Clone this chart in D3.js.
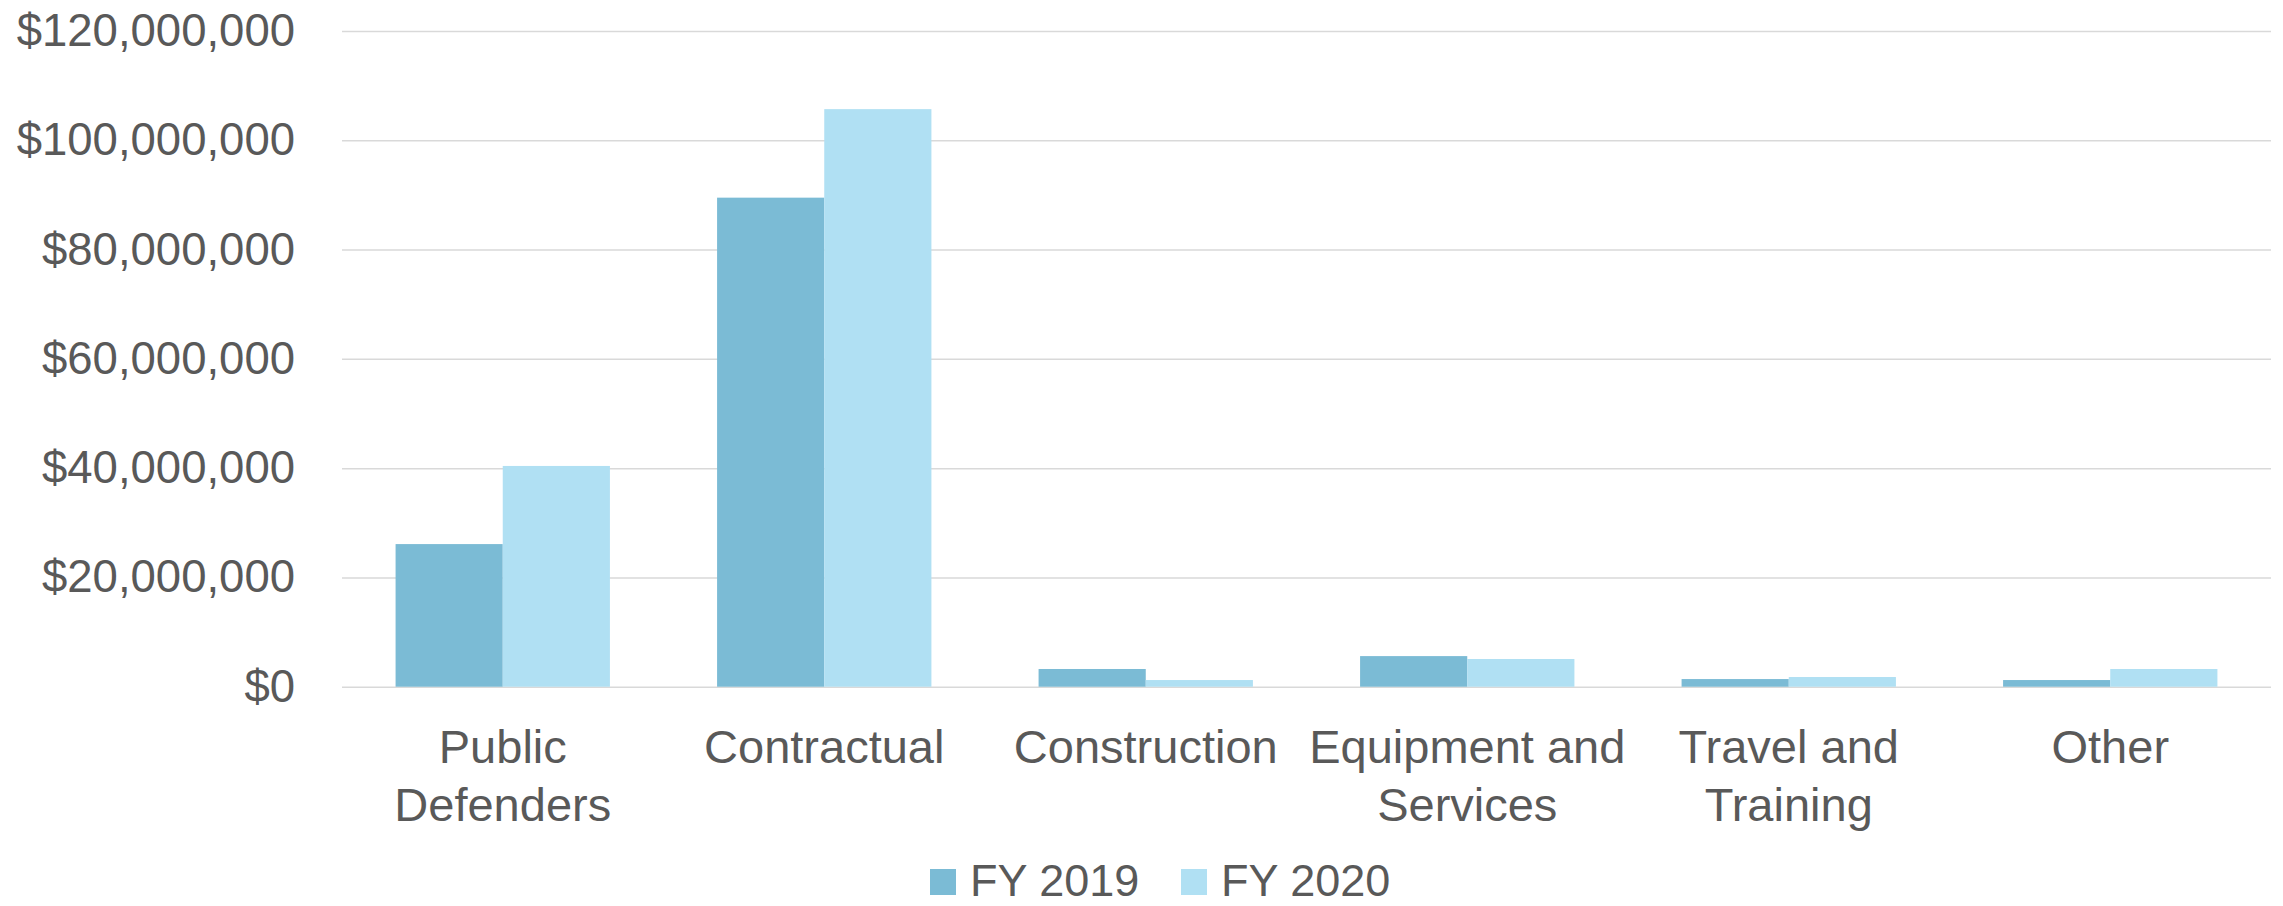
<!DOCTYPE html>
<html>
<head>
<meta charset="utf-8">
<script src="https://cdn.jsdelivr.net/npm/d3@7"></script>
<style>
  body { margin: 0; background: #fff; }
  text { font-family: 'Liberation Sans', Arial, sans-serif; fill: #595959; }
</style>
</head>
<body>
<script>
// data
const categories = ['Public Defenders', 'Contractual', 'Construction', 'Equipment and Services', 'Travel and Training', 'Other'];
const seriesNames = ['FY 2019', 'FY 2020'];
const fy2019 = [26100000, 89500000, 3240000, 5600000, 1400000, 1220000];
const fy2020 = [40400000, 105700000, 1220000, 5070000, 1770000, 3240000];
const yTicks = [0, 20000000, 40000000, 60000000, 80000000, 100000000, 120000000];
const colors = ['#7bbbd5', '#b0e0f3'];

// setting canvas
const width = 2283;
const height = 906;
const plot = { left: 342, right: 2271, top: 31, bottom: 686.7 };

const svg = d3.select('body').append('svg').attr('width', width).attr('height', height);

const rows = categories.map((c, i) => ({ category: c, values: [fy2019[i], fy2020[i]] }));

// scales
const x0 = d3.scaleBand().domain(categories).range([plot.left, plot.right]);
const x1 = d3
  .scaleBand()
  .domain(seriesNames)
  .range([x0.bandwidth() / 6, (x0.bandwidth() * 5) / 6]);
const y = d3.scaleLinear().domain([0, 120000000]).range([plot.bottom, plot.top]);

// grid + y labels
const yAxis = (g) =>
  g
    .attr('transform', `translate(${plot.left}, 0)`)
    .call(
      d3
        .axisLeft(y)
        .tickValues(yTicks)
        .tickFormat(d3.format('$,.0f'))
        .tickSize(-(plot.right - plot.left))
        .tickPadding(47)
    )
    .call((g) => g.select('.domain').remove())
    .call((g) => g.selectAll('line').attr('stroke', '#d9d9d9').attr('stroke-width', 1.5))
    .call((g) => g.selectAll('text').attr('font-size', '45.5px').attr('fill', '#595959').attr('font-family', null));

svg.append('g').call(yAxis);

// bars
svg
  .append('g')
  .selectAll('g')
  .data(rows)
  .join('g')
  .attr('transform', (d) => `translate(${x0(d.category)}, 0)`)
  .selectAll('rect')
  .data((d) => d.values.map((v, i) => ({ key: seriesNames[i], value: v, i })))
  .join('rect')
  .attr('x', (d) => x1(d.key))
  .attr('y', (d) => y(d.value))
  .attr('width', x1.bandwidth())
  .attr('height', (d) => y(0) - y(d.value))
  .attr('fill', (d) => colors[d.i]);

// x labels, wrapped to band width
const xAxis = (g) =>
  g
    .attr('transform', `translate(0, ${plot.bottom})`)
    .call(d3.axisBottom(x0).tickSize(0).tickPadding(0))
    .call((g) => g.select('.domain').remove())
    .call((g) => g.selectAll('text').attr('font-size', '47px').attr('fill', '#595959').attr('font-family', null).attr('dy', null).attr('y', 0));

const xg = svg.append('g').call(xAxis);

const maxLine = x0.bandwidth() * 1.1;
xg.selectAll('.tick text').each(function () {
  const text = d3.select(this);
  const words = text.text().split(' ');
  text.text(null);
  let line = [];
  let lineNo = 0;
  let tspan = text.append('tspan').attr('x', 0).attr('y', 76);
  words.forEach((w) => {
    line.push(w);
    tspan.text(line.join(' '));
    if (tspan.node().getComputedTextLength() > maxLine && line.length > 1) {
      line.pop();
      tspan.text(line.join(' '));
      line = [w];
      lineNo++;
      tspan = text.append('tspan').attr('x', 0).attr('y', 76 + lineNo * 58).text(w);
    }
  });
});

// legend
const legend = svg
  .append('g')
  .attr('transform', 'translate(930, 869)')
  .selectAll('g')
  .data(seriesNames)
  .join('g')
  .attr('transform', (d, i) => `translate(${i * 251}, 0)`);

legend
  .append('rect')
  .attr('width', 26)
  .attr('height', 26)
  .attr('fill', (d, i) => colors[i]);

legend
  .append('text')
  .attr('x', 40)
  .attr('y', 27)
  .attr('font-size', '45px')
  .text((d) => d);
</script>
</body>
</html>
